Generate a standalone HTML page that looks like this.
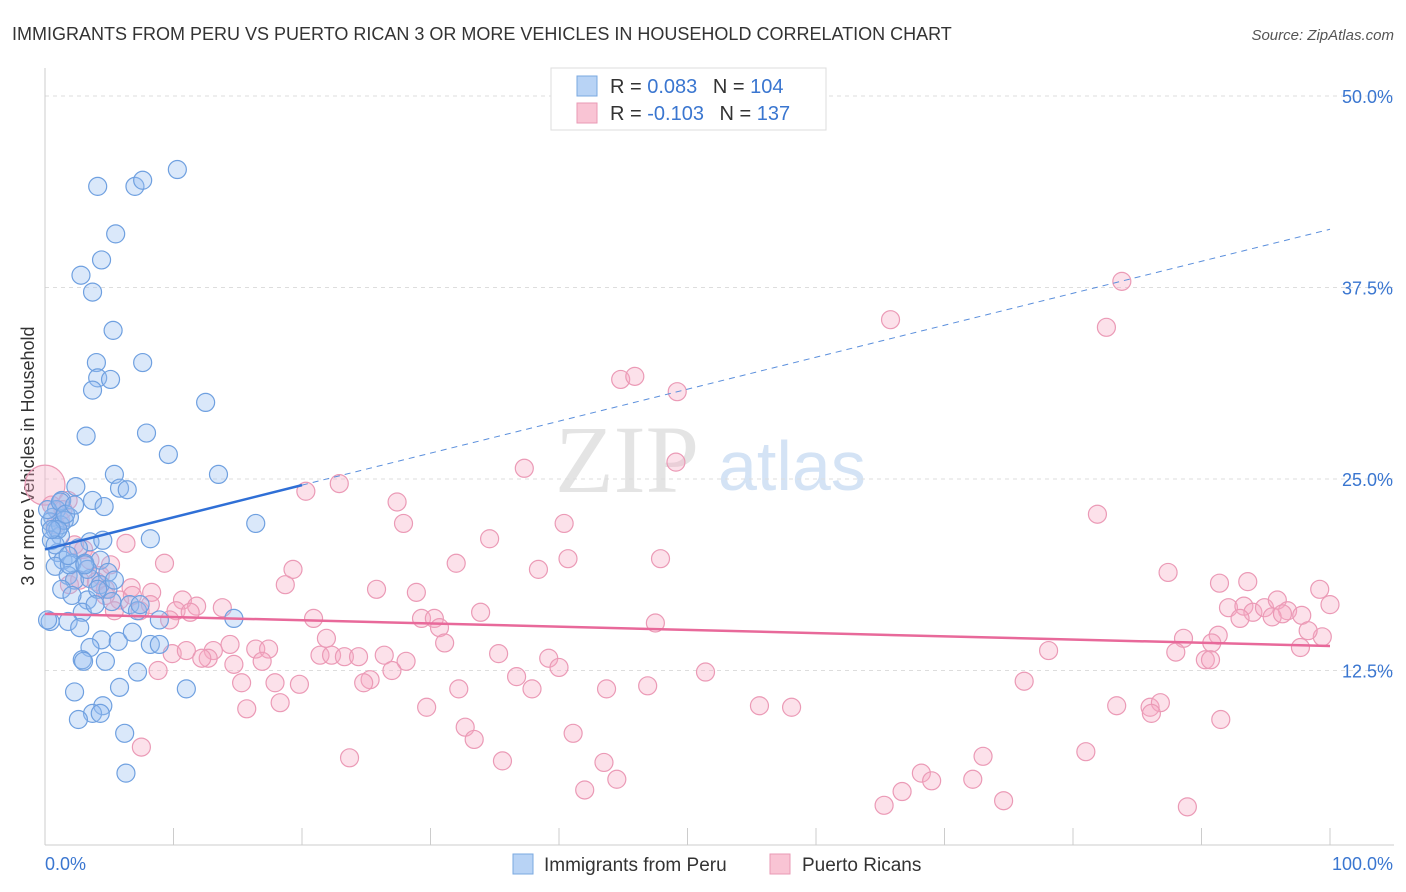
<!DOCTYPE html>
<html><head><meta charset="utf-8">
<style>
body{margin:0;background:#fff;font-family:"Liberation Sans",sans-serif;}
#wrap{position:relative;width:1406px;height:892px;overflow:hidden;}
</style></head>
<body>
<div id="wrap">
<svg id="svg" width="1406" height="892" xmlns="http://www.w3.org/2000/svg">
<text x="12" y="40" font-size="18" fill="#333">IMMIGRANTS FROM PERU VS PUERTO RICAN 3 OR MORE VEHICLES IN HOUSEHOLD CORRELATION CHART</text>
<text x="1394" y="40" font-size="15" fill="#555" font-style="italic" text-anchor="end">Source: ZipAtlas.com</text>
<text x="34" y="456" font-size="18" fill="#333" text-anchor="middle" transform="rotate(-90 34 456)">3 or more Vehicles in Household</text>
<text x="555" y="492" font-size="96" fill="#e4e4e4" font-family="Liberation Serif,serif">ZIP</text>
<text x="718" y="490" font-size="70" fill="#d4e3f5">atlas</text>
<g id="grid"></g><g id="pts"></g><g id="lines"></g>
<g>
<rect x="551" y="68" width="275" height="62" fill="#fff" stroke="#ddd"/>
<rect x="577" y="76" width="20" height="20" fill="#b8d3f5" stroke="#7aa8e0"/>
<rect x="577" y="103" width="20" height="20" fill="#f9c4d4" stroke="#e99ab5"/>
<text x="610" y="93" font-size="20" fill="#333">R = <tspan fill="#3a76d0"> 0.083</tspan>  <tspan dx="10">N = </tspan><tspan fill="#3a76d0">104</tspan></text>
<text x="610" y="120" font-size="20" fill="#333">R = <tspan fill="#3a76d0">-0.103</tspan>  <tspan dx="10">N = </tspan><tspan fill="#3a76d0"> 137</tspan></text>
</g>
<g>
<rect x="513" y="854" width="20" height="20" fill="#b8d3f5" stroke="#7aa8e0"/>
<text x="544" y="871" font-size="19" fill="#333">Immigrants from Peru</text>
<rect x="770" y="854" width="20" height="20" fill="#f9c4d4" stroke="#e99ab5"/>
<text x="802" y="871" font-size="19" fill="#333">Puerto Ricans</text>
</g>
</svg>
</div>
<script>
const yTicks=[12.5,25,37.5,50];
const yTickLabels=["12.5%","25.0%","37.5%","50.0%"];
const xTickLabels=["0.0%","100.0%"];
const peruX=[10.3,4.1,7.0,7.6,5.5,4.4,2.8,3.7,5.3,4.0,7.6,4.1,5.1,3.7,12.5,3.2,7.9,9.6,13.5,5.4,5.8,6.4,2.4,1.3,3.7,4.6,0.9,0.6,1.9,0.4,0.8,1.2,16.4,8.2,3.5,4.5,2.6,1.0,1.4,2.1,3.1,4.3,0.8,1.8,4.9,2.3,3.5,4.3,1.3,4.9,3.3,5.2,6.6,7.2,2.9,0.4,1.8,8.9,14.7,2.7,4.4,5.7,6.8,8.2,8.9,3.5,2.9,3.0,4.7,7.2,2.3,11.0,5.8,4.5,3.7,4.3,2.6,6.2,6.3,0.2,0.2,0.5,1.2,1.5,1.9,3.3,2.1,3.1,4.1,5.4,1.2,1.0,0.8,1.6,0.5,2.3,1.8,3.9,7.4];
const peruY=[45.2,44.1,44.1,44.5,41.0,39.3,38.3,37.2,34.7,32.6,32.6,31.6,31.5,30.8,30.0,27.8,28.0,26.6,25.3,25.3,24.4,24.3,24.5,23.6,23.6,23.2,23.0,22.5,22.5,22.2,21.7,21.3,22.1,21.1,20.9,21.0,20.5,20.2,19.7,19.5,19.5,19.7,19.3,18.7,18.9,18.4,18.5,18.1,17.8,17.8,17.1,17.0,16.8,16.4,16.3,15.7,15.7,15.8,15.9,15.3,14.5,14.4,15.0,14.2,14.2,14.0,13.2,13.1,13.1,12.4,11.1,11.3,11.4,10.2,9.7,9.7,9.3,8.4,5.8,15.8,23.0,21.0,22.0,22.3,19.4,19.1,17.4,19.4,17.8,18.4,23.5,21.7,20.7,22.7,21.7,23.3,20.0,16.8,16.8];
const prX=[83.8,65.8,82.6,44.8,45.9,49.2,37.3,49.1,22.9,20.3,27.4,81.9,27.9,40.4,34.6,6.3,3.0,9.3,40.7,47.9,32.0,38.4,19.3,18.7,6.7,4.7,8.3,25.8,28.9,87.4,91.4,93.6,99.2,92.1,93.3,94.0,94.9,95.9,96.7,100,95.5,96.3,97.8,93.0,10.7,11.8,13.8,10.2,11.3,20.9,29.3,30.3,33.9,30.7,47.5,88.6,91.3,90.8,99.4,98.3,97.7,14.4,16.4,17.4,21.9,21.4,22.3,23.3,24.4,26.4,31.1,35.3,39.2,40.0,78.1,88.0,90.3,90.7,9.9,11.0,13.1,12.7,12.2,14.7,16.9,8.8,28.1,27.0,36.7,25.3,24.8,15.3,17.9,19.8,32.2,37.9,43.7,46.9,51.4,76.2,18.3,15.7,29.7,55.6,58.1,83.4,86.0,86.8,86.1,91.5,32.7,33.4,41.1,7.5,23.7,81.0,73.0,35.6,43.5,44.5,42.0,68.2,69.0,72.2,66.7,65.3,74.6,88.9,0,0.5,1.2,1.8,0.8,2.3,3.5,4.3,5.1,5.8,7.4,1.9,1.4,2.7,4.0,4.7,5.4,6.8,9.7,8.2];
const prY=[37.9,35.4,34.9,31.5,31.7,30.7,25.7,26.1,24.7,24.2,23.5,22.7,22.1,22.1,21.1,20.8,20.4,19.5,19.8,19.8,19.5,19.1,19.1,18.1,17.9,17.8,17.6,17.8,17.6,18.9,18.2,18.3,17.8,16.6,16.7,16.3,16.6,17.1,16.4,16.8,16.0,16.2,16.1,15.9,17.1,16.7,16.6,16.4,16.3,15.9,15.9,15.9,16.3,15.3,15.6,14.6,14.8,14.3,14.7,15.1,14.0,14.2,13.9,13.9,14.6,13.5,13.5,13.4,13.4,13.5,14.3,13.6,13.3,12.7,13.8,13.7,13.2,13.2,13.6,13.8,13.8,13.3,13.3,12.9,13.1,12.5,13.1,12.5,12.1,11.9,11.7,11.7,11.7,11.6,11.3,11.3,11.3,11.5,12.4,11.8,10.4,10.0,10.1,10.2,10.1,10.2,10.1,10.4,9.7,9.3,8.8,8.0,8.4,7.5,6.8,7.2,6.9,6.6,6.5,5.4,4.7,5.8,5.3,5.4,4.6,3.7,4.0,3.6,24.6,23.3,22.3,23.6,22.0,20.7,19.7,18.7,19.4,17.1,16.4,18.1,23.0,18.4,18.3,17.4,16.4,17.4,15.8,16.8];
const peruTrend=[[0,20.4],[20,24.6]], peruDash=[[20,24.6],[100,41.3]], prTrend=[[0,16.2],[100,14.1]];
const X0=45,X1=1330,YB=862,S=15.32;
const sx=v=>X0+(X1-X0)*v/100, sy=v=>YB-v*S;
const NS="http://www.w3.org/2000/svg";
function mk(t,a,p){const e=document.createElementNS(NS,t);for(const k in a)e.setAttribute(k,a[k]);p.appendChild(e);return e;}
const grid=document.getElementById('grid');
yTicks.forEach((t,i)=>{
 const l=mk('line',{x1:45,x2:1394,y1:sy(t),y2:sy(t),stroke:'#ddd','stroke-dasharray':'4,4'},grid);
 
 
 const tx=mk('text',{x:1393,y:sy(t)+7,'font-size':18,fill:'#3a76d0','text-anchor':'end'},grid);
 tx.textContent=yTickLabels[i];
 
 
});
mk('line',{x1:45,x2:45,y1:68,y2:845,stroke:'#ccc'},grid);
mk('line',{x1:45,x2:1394,y1:845,y2:845,stroke:'#ccc'},grid);
for(let i=0;i<=10;i++){const t=mk('line',{x1:sx(i*10),x2:sx(i*10),y1:828,y2:845,stroke:'#ccc'},grid);
 
 }
[[0,'start',45],[1,'end',1393]].forEach(([i,a,x])=>{const t=mk('text',{x:x,y:870,'font-size':18,fill:'#3a76d0','text-anchor':a},grid);t.textContent=xTickLabels[i];
 
 });
const pts=document.getElementById('pts');
prX.forEach((v,i)=>{const c=mk('circle',{cx:sx(v),cy:sy(prY[i]),r:i==prX.length-20?20:9,fill:'rgba(246,170,195,0.35)',stroke:'#eb9ab6','stroke-width':1.2},pts);
 
 });
peruX.forEach((v,i)=>{const c=mk('circle',{cx:sx(v),cy:sy(peruY[i]),r:9,fill:'rgba(150,190,240,0.35)',stroke:'#6fa0e0','stroke-width':1.2},pts);
 
 });
const lines=document.getElementById('lines');
function ln(p,st,name){const l=mk('line',Object.assign({x1:sx(p[0][0]),y1:sy(p[0][1]),x2:sx(p[1][0]),y2:sy(p[1][1])},st),lines);
 
 }
ln(peruTrend,{stroke:'#2f6fd6','stroke-width':2.5},'peru-trend-line');
ln(peruDash,{stroke:'#5b8fdc','stroke-width':1,'stroke-dasharray':'6,5'},'peru-trend-extension');
ln(prTrend,{stroke:'#e8699a','stroke-width':2.5},'puerto-rican-trend-line');
</script>
</body></html>
